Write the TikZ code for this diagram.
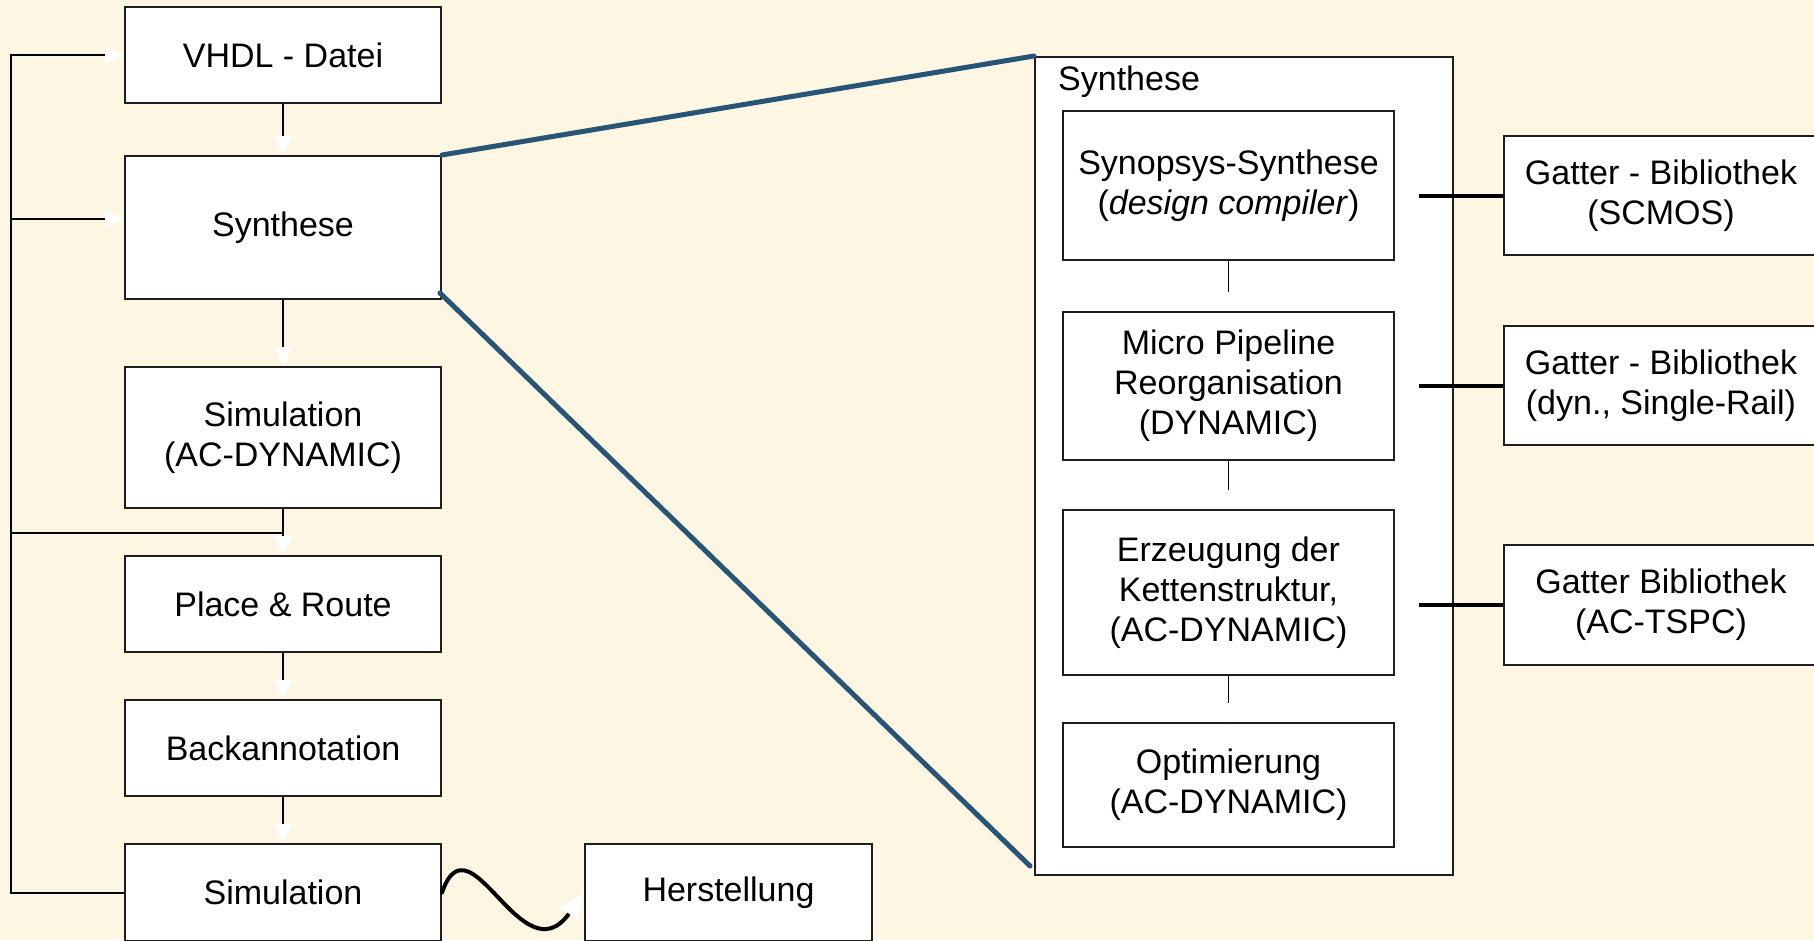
\documentclass[tikz,border=0pt]{standalone}
\usepackage{fontspec}
\setmainfont{Liberation Sans}
\usetikzlibrary{arrows.meta}
\definecolor{paper}{RGB}{252,246,226}
\definecolor{zoomblue}{RGB}{40,84,118}
\definecolor{edge}{RGB}{30,30,30}
\begin{document}
\begin{tikzpicture}[x=1pt,y=-1pt,
  txt/.style={font=\fontsize{34pt}{40pt}\selectfont, align=center},
  stage/.style={txt, draw=edge, line width=2pt, fill=white, inner sep=0pt},
  substage/.style={stage, line width=1.6pt, minimum width=331pt},
  mainstage/.style={stage, minimum width=316pt},
  library/.style={stage, line width=1.8pt, minimum width=314pt},
  flow/.style={draw=black, line width=2pt, -{Triangle[length=19pt,width=18pt,color=white]}},
  subflow/.style={flow, line width=1.6pt},
  wire/.style={draw=black, line width=2pt},
  link/.style={draw=black, line width=4pt},
  zoomline/.style={draw=zoomblue, line width=5pt, line cap=round},
  wave/.style={draw=black, line width=4pt, line cap=round, -{Triangle[length=26pt,width=20pt,color=white]}}
]
% canvas
\fill[paper] (0,0) rectangle (1814,940);
\useasboundingbox (0,0) rectangle (1814,940);

% design flow, left column
\node[mainstage, minimum height=96pt]  (vhdl)  at (283,55)    {VHDL - Datei};
\node[mainstage, minimum height=143pt] (syn)   at (283,227.5) {Synthese};
\node[mainstage, minimum height=141pt] (simac) at (283,437.5) {Simulation\\(AC-DYNAMIC)};
\node[mainstage, minimum height=96pt]  (pr)    at (283,604)   {Place \& Route};
\node[mainstage, minimum height=96pt]  (back)  at (283,748)   {Backannotation};
\node[mainstage, minimum height=97pt]  (sim)   at (283,892.5) {Simulation};
\node[stage, minimum width=287pt, minimum height=97pt] (herst) at (728.5,892.5) {Herstellung};

\draw[flow] (vhdl) -- (syn);
\draw[flow] (syn) -- (simac);
\draw[flow] (simac) -- (pr);
\draw[flow] (pr) -- (back);
\draw[flow] (back) -- (sim);

% feedback loop on the left
\coordinate (looptop) at (11,55);
\coordinate (loopsyn) at (11,219);
\coordinate (looppr)  at (11,533);
\draw[flow] (sim.west) -| (looptop) -- (vhdl.west);
\draw[flow] (loopsyn) -- (loopsyn -| syn.west);
\draw[wire] (looppr) -- (looppr -| simac.south);

% hand-over to fabrication
\draw[wave] (sim.east) .. controls (470,812) and (522,980) .. (herst.west);

% detailed synthesis frame
\node[draw=edge, line width=2pt, fill=white, minimum width=418pt, minimum height=818pt, inner sep=0pt] (frame) at (1244,466) {};
\node[txt, anchor=base west, inner sep=0pt] (frametitle) at (1058,90) {Synthese};

\node[substage, minimum height=149pt] (synop) at (1228.5,185.5) {Synopsys-Synthese\\(\textit{design compiler})};
\node[substage, minimum height=148pt] (micro) at (1228.5,386)   {Micro Pipeline\\Reorganisation\\(DYNAMIC)};
\node[substage, minimum height=165pt] (erz)   at (1228.5,592.5) {Erzeugung der\\Kettenstruktur,\\(AC-DYNAMIC)};
\node[substage, minimum height=124pt] (opt)   at (1228.5,785)   {Optimierung\\(AC-DYNAMIC)};

\draw[subflow] (synop) -- (micro);
\draw[subflow] (micro) -- (erz);
\draw[subflow] (erz) -- (opt);

% gate libraries
\node[library, minimum height=119pt] (lib1) at (1661,195.5) {Gatter - Bibliothek\\(SCMOS)};
\node[library, minimum height=119pt] (lib2) at (1661,385.5) {Gatter - Bibliothek\\(dyn., Single-Rail)};
\node[library, minimum height=120pt] (lib3) at (1661,605)   {Gatter Bibliothek\\(AC-TSPC)};

\coordinate (tap1) at (1419,195.5);
\coordinate (tap2) at (1419,385.5);
\coordinate (tap3) at (1419,605);
\draw[link] (tap1) -- (lib1.west);
\draw[link] (tap2) -- (lib2.west);
\draw[link] (tap3) -- (lib3.west);

% zoom lines from the synthesis step to its detail
\coordinate (zoomend) at (1030,866);
\draw[zoomline] (syn.north east) -- (frame.north west);
\draw[zoomline] ([shift={(-2pt,7pt)}]syn.south east) -- (zoomend);
\end{tikzpicture}
\end{document}
